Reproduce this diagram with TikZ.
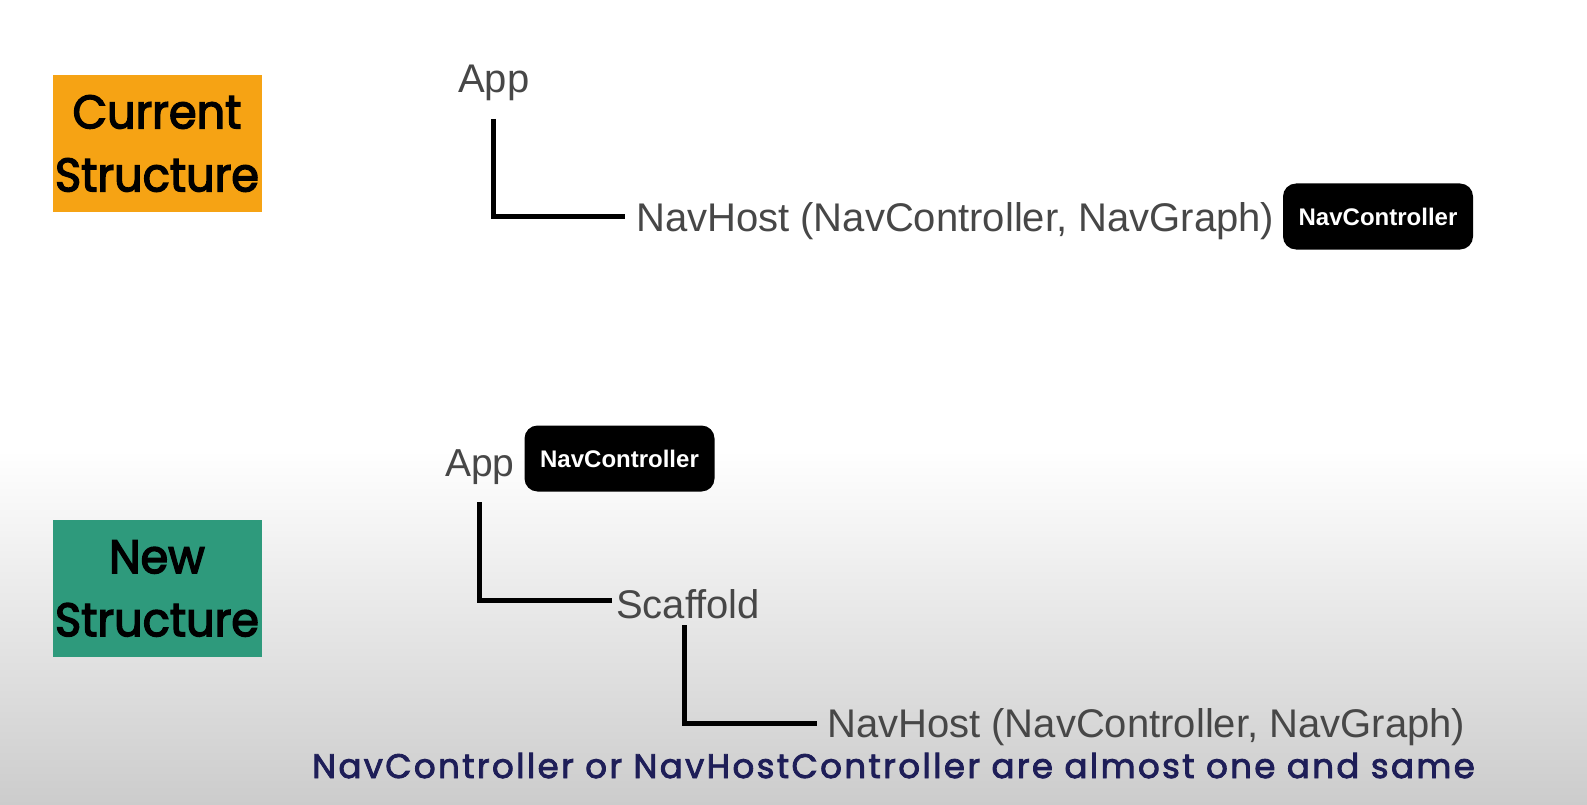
\documentclass[tikz,border=0pt]{standalone}
\usepackage{fontspec}
\setmainfont{Liberation Sans}
\newfontfamily\futura{Poppins}[FakeStretch=0.95,FakeBold=3]
\newfontfamily\futnote{Poppins}[LetterSpace=7,FakeBold=2.5]
\definecolor{txtgray}{HTML}{474747}
\definecolor{orangebox}{HTML}{F6A314}
\definecolor{greenbox}{HTML}{2E9A7C}
\definecolor{navy}{HTML}{1E1E58}
\definecolor{bggray}{HTML}{CCCCCC}
\tikzset{
  lbl/.style={inner sep=0pt, text=txtgray, font=\fontsize{40}{48}\selectfont},
  pill/.style={fill=black, rounded corners=13pt, text=white, inner sep=0pt,
    minimum width=190pt, minimum height=66pt, font=\bfseries\fontsize{24}{28}\selectfont},
  conn/.style={line width=5pt, draw=black},
  tagbox/.style={inner sep=0pt, minimum width=209pt, minimum height=137pt, align=center,
    font=\futura\fontsize{47}{63}\selectfont, text=black},
}
\begin{document}
\begin{tikzpicture}[x=1pt,y=-1pt]
\useasboundingbox (0,0) rectangle (1587,805);
\fill[white] (0,0) rectangle (1587,805);
\shade[top color=white, bottom color=bggray] (0,450) rectangle (1587,805);

% current structure
\node[tagbox, fill=orangebox] (cur) at (157,143.5) {Current\\Structure};
\node[lbl, anchor=base west] (app1) at (458,93) {App};
\node[lbl, anchor=west] (nh1) at (636,221) {NavHost (NavController, NavGraph)};
\node[pill] (nc1) at (1378,216.5) {NavController};
\draw[conn] (app1.south |- 0,119) |- ([xshift=-11pt]nh1.west |- 0,217);

% new structure
\node[tagbox, fill=greenbox] (new) at (157,588.5) {New\\Structure};
\node[lbl, anchor=base west, font=\fontsize{39}{46}\selectfont] (app2) at (445,476) {App};
\node[pill] (nc2) at (619.5,458.5) {NavController};
\node[lbl, anchor=west] (scaf) at (616,604) {Scaffold};
\node[lbl, anchor=west] (nh2) at (827,727) {NavHost (NavController, NavGraph)};
\draw[conn] (app2.south |- 0,502) |- ([xshift=-4pt]scaf.west |- 0,600);
\draw[conn] ([xshift=-4pt]scaf.south |- 0,625) |- ([xshift=-10pt]nh2.west |- 0,723);

\node[inner sep=0pt, anchor=base west, text=navy, font=\futnote\fontsize{34}{40}\selectfont] (note) at (312,778) {NavController or NavHostController are almost one and same};
\end{tikzpicture}
\end{document}
